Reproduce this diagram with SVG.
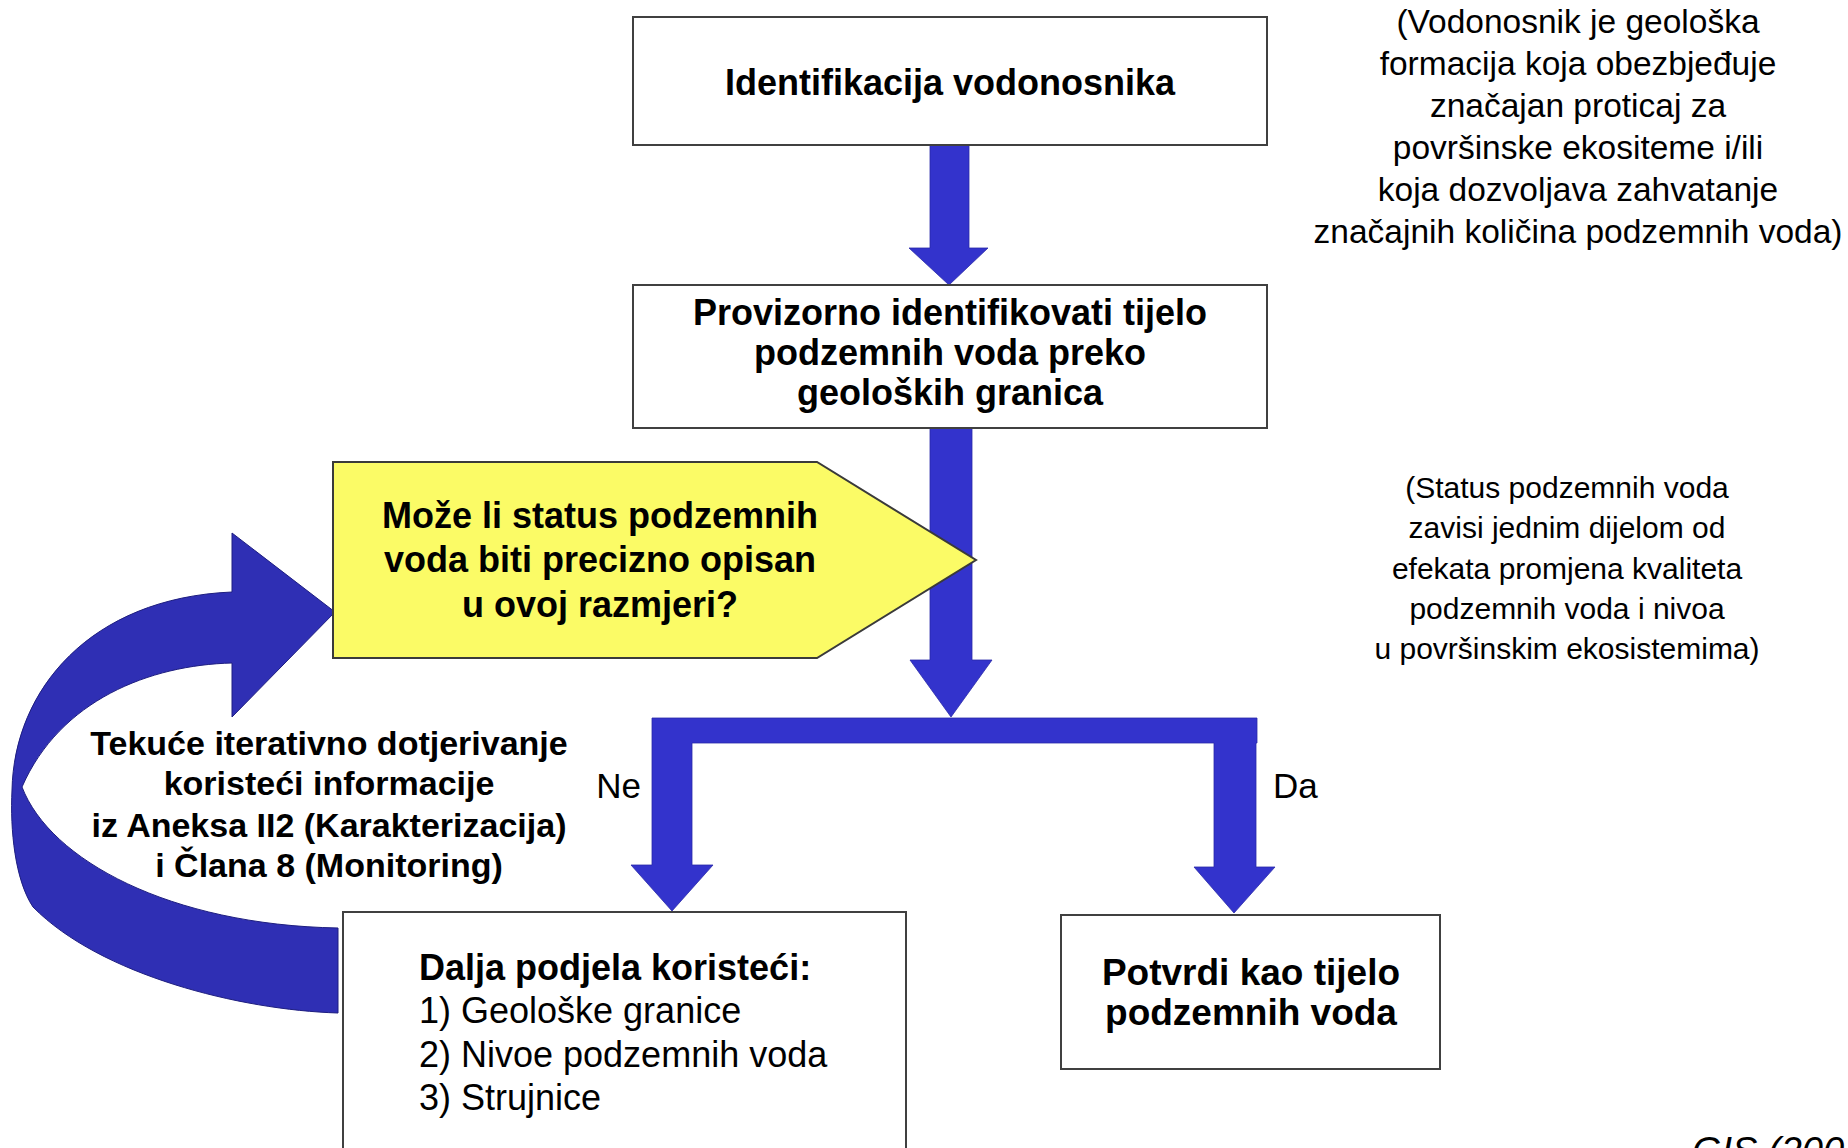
<svg xmlns="http://www.w3.org/2000/svg" width="1848" height="1148" viewBox="0 0 1848 1148">
<style>
.box{fill:#ffffff;stroke:#404040;stroke-width:2}
.yel{fill:#FBFB66;stroke:#3a3a3a;stroke-width:2}
.blue{fill:#3333CC;stroke:#2a2aa8;stroke-width:0.8}
.curve{fill:#2F2FB4;stroke:#1e1e80;stroke-width:1}
.b{font-family:"Liberation Sans",Arial,sans-serif;font-weight:bold;font-size:36px;fill:#000}
.r{font-family:"Liberation Sans",Arial,sans-serif;font-size:36px;fill:#000}
.note{font-family:"Liberation Sans",Arial,sans-serif;font-size:33.5px;fill:#000;text-anchor:middle}
.note2{font-family:"Liberation Sans",Arial,sans-serif;font-size:30px;fill:#000;text-anchor:middle}
.c{text-anchor:middle}
</style>
<rect width="1848" height="1148" fill="#ffffff"/>

<g id="connectors">
  <polygon class="blue" points="930,145 969,145 969,248 988,248 949,285 909,248 930,248"/>
  <polygon class="blue" points="930,428 972,428 972,660 992,660 951,717 910,660 930,660"/>
  <polygon class="blue" points="652,718 1257,718 1257,743 1256,743 1256,867 1275,867 1234,913 1194,867 1214,867 1214,743 692,743 692,865 713,865 672,911 631,865 652,865"/>
  <path class="curve" d="M338,1013 C240,1010 100,975 33,907 C15,880 10,830 12,790 C14,690 90,598 232,592 L232,533 L335,612 L232,717 L232,663 C150,665 60,700 22,787 C50,860 170,925 338,928 Z"/>
</g>

<g id="n1">
  <rect class="box" x="633" y="17" width="634" height="128"/>
  <text class="b c" x="950" y="95">Identifikacija vodonosnika</text>
</g>

<g id="n2">
  <rect class="box" x="633" y="285" width="634" height="143"/>
  <text class="b c" x="950" y="325">Provizorno identifikovati tijelo</text>
  <text class="b c" x="950" y="365">podzemnih voda preko</text>
  <text class="b c" x="950" y="405">geoloških granica</text>
</g>

<g id="n3">
  <polygon class="yel" points="333,462 817,462 976,560 817,658 333,658"/>
  <text class="b c" x="600" y="528">Može li status podzemnih</text>
  <text class="b c" x="600" y="572">voda biti precizno opisan</text>
  <text class="b c" x="600" y="617">u ovoj razmjeri?</text>
</g>

<g id="n4">
  <rect class="box" x="343" y="912" width="563" height="260"/>
  <text class="b" x="419" y="980">Dalja podjela koristeći:</text>
  <text class="r" x="419" y="1023">1) Geološke granice</text>
  <text class="r" x="419" y="1067">2) Nivoe podzemnih voda</text>
  <text class="r" x="419" y="1110">3) Strujnice</text>
</g>

<g id="n5">
  <rect class="box" x="1061" y="915" width="379" height="154"/>
  <text class="b c" x="1251" y="985" style="font-size:37px">Potvrdi kao tijelo</text>
  <text class="b c" x="1251" y="1025" style="font-size:37px">podzemnih voda</text>
</g>

<g id="labels">
  <text class="b c" x="329" y="755" style="font-size:34px">Tekuće iterativno dotjerivanje</text>
  <text class="b c" x="329" y="795" style="font-size:34px">koristeći informacije</text>
  <text class="b c" x="329" y="837" style="font-size:34px">iz Aneksa II2 (Karakterizacija)</text>
  <text class="b c" x="329" y="877" style="font-size:34px">i Člana 8 (Monitoring)</text>
  <text class="r" x="641" y="798" text-anchor="end" style="font-size:35px">Ne</text>
  <text class="r" x="1273" y="798" style="font-size:35px">Da</text>
</g>

<g id="note1">
  <text class="note" x="1578" y="33">(Vodonosnik je geološka</text>
  <text class="note" x="1578" y="75">formacija koja obezbjeđuje</text>
  <text class="note" x="1578" y="117">značajan proticaj za</text>
  <text class="note" x="1578" y="159">površinske ekositeme i/ili</text>
  <text class="note" x="1578" y="201">koja dozvoljava zahvatanje</text>
  <text class="note" x="1578" y="243">značajnih količina podzemnih voda)</text>
</g>

<g id="note2">
  <text class="note2" x="1567" y="498">(Status podzemnih voda</text>
  <text class="note2" x="1567" y="538">zavisi jednim dijelom od</text>
  <text class="note2" x="1567" y="579">efekata promjena kvaliteta</text>
  <text class="note2" x="1567" y="619">podzemnih voda i nivoa</text>
  <text class="note2" x="1567" y="659">u površinskim ekosistemima)</text>
</g>

<g id="source">
  <text x="1692" y="1164" style="font-family:'Liberation Sans',Arial,sans-serif;font-style:italic;font-size:38px;fill:#000">GIS (200</text>
</g>
</svg>
